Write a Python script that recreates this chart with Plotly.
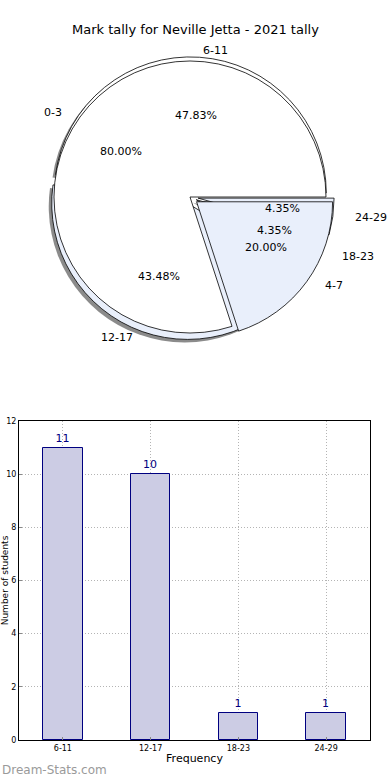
import math
import plotly.graph_objects as go

# ---------------- data ----------------
title_text = "Mark tally for Neville Jetta - 2021 tally"
pie_a_labels = ["6-11", "12-17", "18-23", "24-29"]
pie_a_values = [11, 10, 1, 1]
pie_b_labels = ["0-3", "4-7"]
pie_b_values = [4, 1]
bar_categories = ["6-11", "12-17", "18-23", "24-29"]
bar_values = [11, 10, 1, 1]
y_ticks = [0, 2, 4, 6, 8, 10, 12]
x_title = "Frequency"
y_title = "Number of students"
watermark = "Dream-Stats.com"

# ---------------- layout constants ----------------
W, H = 390, 780
CX, CY, R = 190, 197, 136
RX, RY = 142, 130          # text placement radii
pull_a = [0.03, 0.05, 0.05, 0.06]
pull_b = [0, 0.06]
MAXPULL = 0.06
FONT = "DejaVu Sans"
WHITE = "#ffffff"
BLUE = "#e9effb"
half = R * (1 + MAXPULL)


def dom(dx=0, dy=0):
    return dict(x=[(CX - half + dx) / W, (CX + half + dx) / W],
                y=[1 - (CY + half + dy) / H, 1 - (CY - half + dy) / H])


def start_rotation(values):
    # first slice begins at 3 o'clock and slices run counterclockwise
    return 90 - 360 * values[0] / sum(values)


common = dict(sort=False, direction="counterclockwise",
              textinfo="none", hoverinfo="label+percent", showlegend=False)

fig = go.Figure()
# shadow
fig.add_trace(go.Pie(labels=pie_a_labels, values=pie_a_values, pull=pull_a,
                     domain=dom(-3, 3), rotation=start_rotation(pie_a_values),
                     marker=dict(colors=["rgba(90,90,90,0.7)"] * len(pie_a_values),
                                 line=dict(width=0)), **common))
# first pie
fig.add_trace(go.Pie(labels=pie_a_labels, values=pie_a_values, pull=pull_a,
                     domain=dom(), rotation=start_rotation(pie_a_values),
                     marker=dict(colors=[WHITE, BLUE, WHITE, BLUE],
                                 line=dict(color="#000000", width=0.8)), **common))
# second pie on top
fig.add_trace(go.Pie(labels=pie_b_labels, values=pie_b_values, pull=pull_b,
                     domain=dom(), rotation=start_rotation(pie_b_values),
                     marker=dict(colors=[WHITE, BLUE],
                                 line=dict(color="#000000", width=0.8)), **common))

annotations = []


def slice_annotations(labels, values, pulls):
    total = sum(values)
    cum = 0
    for lab, v, p in zip(labels, values, pulls):
        mid = math.radians(360 * (cum + v / 2) / total)
        cum += v
        c, s = math.cos(mid), math.sin(mid)
        lx = CX + (1.1 + p) * RX * c
        ly = CY - (1.1 + p) * RY * s
        annotations.append(dict(x=lx / W, y=1 - ly / H, xref="paper", yref="paper",
                                text=lab, showarrow=False,
                                xanchor="left" if c > 0 else "right", yanchor="middle",
                                font=dict(family=FONT, size=11, color="#000000")))
        px = CX + (0.6 + p) * RX * c
        py = CY - (0.6 + p) * RY * s
        annotations.append(dict(x=px / W, y=1 - py / H, xref="paper", yref="paper",
                                text=f"{100 * v / total:.2f}%", showarrow=False,
                                xanchor="center", yanchor="middle",
                                font=dict(family=FONT, size=11, color="#000000")))


slice_annotations(pie_a_labels, pie_a_values, pull_a)
slice_annotations(pie_b_labels, pie_b_values, pull_b)

annotations.append(dict(x=0.5, y=1 - 30 / H, xref="paper", yref="paper",
                        text=title_text, showarrow=False, xanchor="center", yanchor="middle",
                        font=dict(family=FONT, size=13, color="#000000")))
annotations.append(dict(x=0, y=1 - 770 / H, xref="paper", yref="paper",
                        text=watermark, showarrow=False, xanchor="left",
                        yanchor="middle",
                        font=dict(family=FONT, size=12, color="#9a9a9a")))

# ---------------- bar chart ----------------
fig.add_trace(go.Bar(x=bar_categories, y=bar_values, width=0.45,
                     marker=dict(color="rgb(204,204,228)",
                                 line=dict(color="#000080", width=1)),
                     text=[str(v) for v in bar_values], textposition="outside",
                     textfont=dict(family=FONT, size=11, color="#000080"),
                     cliponaxis=False, showlegend=False, hoverinfo="x+y"))

grid = dict(showgrid=True, gridcolor="#b4b4b4", griddash="1px,2px", gridwidth=1,
            showline=True, linecolor="#000000", linewidth=1, mirror=True,
            ticks="inside", ticklen=3, tickcolor="#888888", zeroline=False,
            tickfont=dict(family=FONT, size=8, color="#000000"), automargin=False)

fig.update_layout(
    width=W, height=H,
    margin=dict(l=0, r=0, t=0, b=0),
    paper_bgcolor="#ffffff", plot_bgcolor="#ffffff",
    annotations=annotations,
    xaxis=dict(domain=[19 / W, 370 / W], range=[-0.5, 3.5], type="category",
               title=dict(text=x_title, font=dict(family=FONT, size=11, color="#000000"),
                          standoff=2),
               **grid),
    yaxis=dict(domain=[1 - 740 / H, 1 - 421 / H], range=[0, 12], tickvals=y_ticks,
               title=dict(text=y_title, font=dict(family=FONT, size=9, color="#000000"),
                          standoff=9),
               **grid),
    bargap=0,
)

fig.write_html("out.html", config={"displayModeBar": False},
               post_script="document.body.style.margin='0';")
